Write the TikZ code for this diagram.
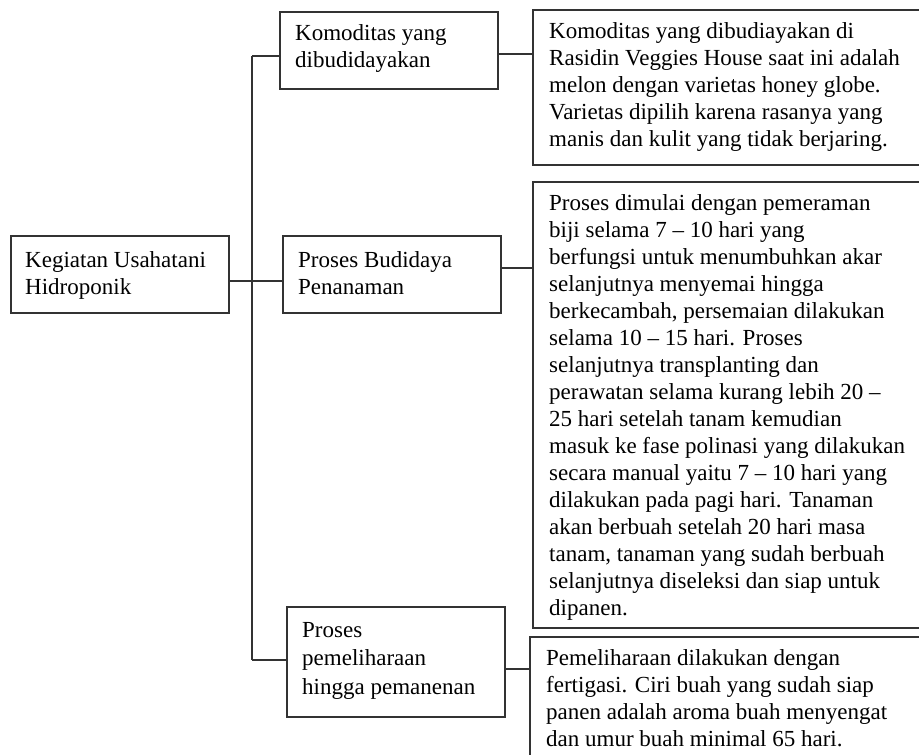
\documentclass[tikz,border=0pt]{standalone}
\usepackage{fontspec}
\setmainfont{Liberation Serif}
\begin{document}
\begin{tikzpicture}[x=1pt,y=-1pt,
  box/.style={draw=black!80, line width=1.3pt, anchor=north west, inner sep=0pt, outer sep=0pt},
  txt/.style={anchor=north west, inner sep=0pt, align=left, font=\fontsize{23}{27}\selectfont},
  link/.style={draw=black!80, line width=1.3pt}]
\useasboundingbox (0,0) rectangle (919,755);
\clip (0,0) rectangle (919,755);
% boxes
\node[box, minimum width=218pt, minimum height=77pt] (root) at (11,236) {};
\node[box, minimum width=218pt, minimum height=77pt] (kom) at (280,12) {};
\node[box, minimum width=218pt, minimum height=77pt] (bud) at (283,236) {};
\node[box, minimum width=218pt, minimum height=110pt] (pel) at (287,607) {};
\node[box, minimum width=420pt, minimum height=155pt] (d1) at (533,10) {};
\node[box, minimum width=420pt, minimum height=446pt] (d2) at (533,182) {};
\node[box, minimum width=420pt, minimum height=150pt] (d3) at (530,637) {};
% texts
\node[txt] (rootT) at ([shift={(14,12)}]root.north west) {\strut Kegiatan Usahatani\\Hidroponik};
\node[txt] (komT) at ([shift={(15,9)}]kom.north west) {\strut Komoditas yang\\dibudidayakan};
\node[txt] (budT) at ([shift={(15,12)}]bud.north west) {\strut Proses Budidaya\\Penanaman};
\node[txt, font=\fontsize{23}{28.5}\selectfont] (pelT) at ([shift={(15,10)}]pel.north west) {\strut Proses\\pemeliharaan\\hingga pemanenan};
\node[txt] (d1T) at ([shift={(16,9)}]d1.north west) {\strut Komoditas yang dibudiayakan di\\Rasidin Veggies House saat ini adalah\\melon dengan varietas honey globe.\\Varietas dipilih karena rasanya yang\\manis dan kulit yang tidak berjaring.};
\node[txt] (d2T) at ([shift={(16,9)}]d2.north west) {\strut Proses dimulai dengan pemeraman\\biji selama 7 -- 10 hari yang\\berfungsi untuk menumbuhkan akar\\selanjutnya menyemai hingga\\berkecambah, persemaian dilakukan\\selama 10 -- 15 hari. Proses\\selanjutnya transplanting dan\\perawatan selama kurang lebih 20 --\\25 hari setelah tanam kemudian\\masuk ke fase polinasi yang dilakukan\\secara manual yaitu 7 -- 10 hari yang\\dilakukan pada pagi hari. Tanaman\\akan berbuah setelah 20 hari masa\\tanam, tanaman yang sudah berbuah\\selanjutnya diseleksi dan siap untuk\\dipanen.};
\node[txt] (d3T) at ([shift={(16,9)}]d3.north west) {\strut Pemeliharaan dilakukan dengan\\fertigasi. Ciri buah yang sudah siap\\panen adalah aroma buah menyengat\\dan umur buah minimal 65 hari.};
% connectors
\coordinate (j1) at (252,56);
\coordinate (j2) at (252,281);
\coordinate (j3) at (252,660);
\coordinate (k1) at (0,54);
\coordinate (k2) at (0,268);
\coordinate (k3) at (0,669);
\draw[link] (j1) -- (j3);
\draw[link] (j1) -- (j1 -| kom.west);
\draw[link] (root.east |- j2) -- (j2 -| bud.west);
\draw[link] (j3) -- (j3 -| pel.west);
\draw[link] (kom.east |- k1) -- (d1.west |- k1);
\draw[link] (bud.east |- k2) -- (d2.west |- k2);
\draw[link] (pel.east |- k3) -- (d3.west |- k3);
\end{tikzpicture}
\end{document}
